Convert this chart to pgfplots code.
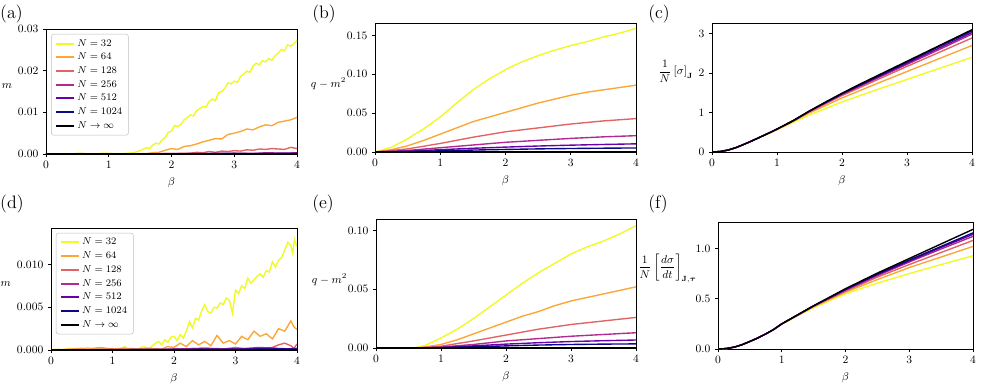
\documentclass[border=0pt]{standalone}
\usepackage{amsmath}
\usepackage{pgfplots}
\pgfplotsset{compat=1.18}

\definecolor{cA}{HTML}{F0F921}
\definecolor{cB}{HTML}{FCA636}
\definecolor{cC}{HTML}{E16462}
\definecolor{cD}{HTML}{B12A90}
\definecolor{cE}{HTML}{6A00A8}
\definecolor{cF}{HTML}{0D0887}

\pgfplotsset{
  panel/.style={
    scale only axis, anchor=south west,
    xmin=0, xmax=4, ymin=0, xtick={0,...,4},
    xlabel={$\beta$},
    xtick pos=bottom, ytick pos=left, tick align=outside,
    major tick length=2.6pt,
    tick label style={font=\fontsize{9}{11}\selectfont},
    label style={font=\fontsize{9}{11}\selectfont},
    axis line style={line width=0.6pt}, tick style={line width=0.6pt, black},
    scaled y ticks=false,
    yticklabel style={/pgf/number format/fixed, /pgf/number format/fixed zerofill},
    every axis plot/.append style={line width=1.1pt, mark=none},
  },
  % horizontal y label: right edge #1 left of the axis, baseline raised by #2
  ylab/.style 2 args={every axis y label/.style={at={(rel axis cs:0,0.5)}, anchor=base east,
    inner sep=0pt, xshift=-#1, yshift=#2, font=\fontsize{9}{11}\selectfont}},
  leg/.style={
    legend cell align=left,
    legend style={font=\fontsize{8.5}{10}\selectfont, draw=black!25, rounded corners=2pt,
      at={(0.02,0.96)}, anchor=north west},
    legend image code/.code={\draw[##1, line width=1.6pt] (0cm,0cm) -- (0.5cm,0cm);},
    legend entries={{$N=32$},{$N=64$},{$N=128$},{$N=256$},{$N=512$},{$N=1024$},{$N\rightarrow\infty$}},
  },
}

\begin{document}
\begin{tikzpicture}
\useasboundingbox (0,0) rectangle (784.8pt,308pt);

%% (a)
\node[anchor=north west, font=\Large, inner sep=0pt] at (0pt,304pt) {(a)};
\begin{axis}[panel, leg, ylab={27pt}{2pt}, at={(36.8pt,184.8pt)}, width=200.8pt, height=100pt,
  ymax=0.03, ytick={0,0.01,0.02,0.03},
  yticklabel style={/pgf/number format/precision=2},
  ylabel={$m$}]
\addplot[cA] coordinates {(0,0) (0.1,0.0001) (0.2,0) (0.3,0.0001) (0.4,0) (0.5,0.0001) (0.55,0.0002) (0.6,0) (0.7,0.0001) (0.8,0) (0.9,0.0002) (1.0,0.0001) (1.1,0.0001) (1.2,0.0001) (1.3,0.0002) (1.4,0.0003) (1.45,0.0006) (1.5,0.0008) (1.55,0.0012) (1.6,0.0015) (1.65,0.0013) (1.7,0.0021) (1.75,0.0026) (1.8,0.0024) (1.85,0.0034) (1.9,0.0040) (1.95,0.0052) (2.0,0.0055) (2.05,0.0068) (2.1,0.0066) (2.15,0.0071) (2.2,0.0082) (2.25,0.0087) (2.3,0.0094) (2.35,0.0091) (2.4,0.0104) (2.45,0.0109) (2.5,0.0114) (2.55,0.0113) (2.6,0.0126) (2.65,0.0132) (2.7,0.0128) (2.75,0.0147) (2.8,0.0150) (2.85,0.0158) (2.9,0.0171) (2.95,0.0168) (3.0,0.0175) (3.05,0.0172) (3.1,0.0186) (3.15,0.0192) (3.2,0.0199) (3.25,0.0196) (3.3,0.0211) (3.35,0.0218) (3.4,0.0214) (3.45,0.0224) (3.5,0.0221) (3.55,0.0229) (3.6,0.0225) (3.65,0.0236) (3.7,0.0242) (3.75,0.0251) (3.8,0.0248) (3.85,0.0262) (3.9,0.0259) (3.95,0.0264) (4.0,0.0273)};
\addplot[cB] coordinates {(0,0) (0.6,0.0001) (0.8,0) (1.0,0.0001) (1.2,0) (1.4,0.0001) (1.6,0.0001) (1.7,0.0003) (1.8,0.0004) (1.9,0.0009) (2.0,0.0013) (2.1,0.0011) (2.2,0.0018) (2.3,0.0020) (2.4,0.0024) (2.5,0.0029) (2.6,0.0033) (2.7,0.0037) (2.8,0.0036) (2.9,0.0047) (3.0,0.0050) (3.1,0.0054) (3.2,0.0060) (3.3,0.0058) (3.4,0.0065) (3.5,0.0070) (3.6,0.0068) (3.7,0.0076) (3.8,0.0079) (3.9,0.0082) (4.0,0.0088)};
\addplot[cC] coordinates {(0,0) (1.0,0) (2.0,0.0001) (2.3,0.0002) (2.4,0.0004) (2.5,0.0003) (2.6,0.0006) (2.7,0.0004) (2.8,0.0007) (2.9,0.0006) (3.0,0.0008) (3.1,0.0007) (3.2,0.0010) (3.3,0.0009) (3.4,0.0012) (3.5,0.0011) (3.6,0.0013) (3.7,0.0012) (3.8,0.0011) (3.9,0.0016) (4.0,0.0013)};
\addplot[cD] coordinates {(0,0) (2.5,0.0001) (3.0,0.0002) (3.3,0.0001) (3.5,0.0003) (3.8,0.0002) (4.0,0.0003)};
\addplot[cE] coordinates {(0,0) (3.0,0.0001) (3.5,0.0001) (4.0,0.0002)};
\addplot[cF] coordinates {(0,0) (3.5,0.0001) (4.0,0.0001)};
\addplot[black] coordinates {(0,0) (4,0)};
\end{axis}

%% (b)
\node[anchor=north west, font=\Large, inner sep=0pt] at (249.6pt,304pt) {(b)};
\begin{axis}[panel, ylab={23pt}{0pt}, at={(300pt,186.4pt)}, width=208.8pt, height=103.2pt,
  ymax=0.166, ytick={0,0.05,0.10,0.15},
  yticklabel style={/pgf/number format/precision=2},
  ylabel={$q-m^2$}]
\addplot[cA] coordinates {(0,0) (0.25,0.006) (0.5,0.017) (0.75,0.030) (1,0.045) (1.25,0.063) (1.5,0.080) (1.75,0.094) (2,0.106) (2.25,0.116) (2.5,0.124) (2.75,0.131) (3,0.137) (3.25,0.142) (3.5,0.148) (3.75,0.153) (4,0.159)};
\addplot[cB] coordinates {(0,0) (0.25,0.003) (0.5,0.008) (0.75,0.015) (1,0.023) (1.25,0.031) (1.5,0.039) (1.75,0.045) (2,0.051) (2.25,0.057) (2.5,0.063) (2.75,0.068) (3,0.073) (3.25,0.077) (3.5,0.080) (3.75,0.083) (4,0.086)};
\addplot[cC] coordinates {(0,0) (0.5,0.004) (1,0.011) (1.5,0.019) (2,0.026) (2.5,0.031) (3,0.036) (3.5,0.040) (4,0.043)};
\addplot[cD] coordinates {(0,0) (0.5,0.002) (1,0.0055) (1.5,0.009) (2,0.0125) (2.5,0.015) (3,0.0175) (3.5,0.0195) (4,0.021)};
\addplot[cE] coordinates {(0,0) (0.5,0.001) (1,0.003) (1.5,0.0048) (2,0.0063) (2.5,0.0077) (3,0.0088) (3.5,0.0097) (4,0.0105)};
\addplot[cF] coordinates {(0,0) (0.5,0.0005) (1,0.0015) (1.5,0.0025) (2,0.0033) (2.5,0.0040) (3,0.0045) (3.5,0.0049) (4,0.0052)};
\addplot[black] coordinates {(0,0) (4,0)};
\end{axis}

%% (c)
\node[anchor=north west, font=\Large, inner sep=0pt] at (518.4pt,304pt) {(c)};
\begin{axis}[panel, ylab={15pt}{10pt}, at={(569.6pt,186.4pt)}, width=208pt, height=103.2pt,
  ymax=3.27, ytick={0,1,2,3},
  yticklabel style={/pgf/number format/precision=0},
  ylabel={$\dfrac{1}{N}\left[\sigma\right]_{\mathbf{J}}$}]
\addplot[cA] coordinates {(0,0) (0.125,0.012) (0.25,0.05) (0.375,0.115) (0.5,0.2) (0.625,0.29) (0.75,0.38) (0.875,0.47) (1,0.56) (1.25,0.75) (1.5,0.94) (2,1.27) (2.5,1.56) (3,1.84) (3.5,2.12) (4,2.40)};
\addplot[cB] coordinates {(0,0) (0.125,0.012) (0.25,0.05) (0.375,0.115) (0.5,0.2) (0.625,0.29) (0.75,0.385) (0.875,0.48) (1,0.575) (1.25,0.78) (1.5,0.99) (2,1.37) (2.5,1.71) (3,2.04) (3.5,2.37) (4,2.70)};
\addplot[cC] coordinates {(0,0) (0.125,0.012) (0.25,0.05) (0.375,0.115) (0.5,0.2) (0.625,0.29) (0.75,0.385) (0.875,0.48) (1,0.58) (1.25,0.79) (1.5,1.02) (2,1.43) (2.5,1.80) (3,2.17) (3.5,2.53) (4,2.89)};
\addplot[cD] coordinates {(0,0) (0.125,0.012) (0.25,0.05) (0.375,0.115) (0.5,0.2) (0.625,0.29) (0.75,0.385) (0.875,0.48) (1,0.58) (1.25,0.79) (1.5,1.03) (2,1.46) (2.5,1.84) (3,2.22) (3.5,2.60) (4,2.99)};
\addplot[cE] coordinates {(0,0) (0.125,0.012) (0.25,0.05) (0.375,0.115) (0.5,0.2) (0.625,0.29) (0.75,0.385) (0.875,0.48) (1,0.58) (1.25,0.79) (1.5,1.035) (2,1.47) (2.5,1.86) (3,2.25) (3.5,2.64) (4,3.03)};
\addplot[cF] coordinates {(0,0) (0.125,0.012) (0.25,0.05) (0.375,0.115) (0.5,0.2) (0.625,0.29) (0.75,0.385) (0.875,0.48) (1,0.58) (1.25,0.79) (1.5,1.04) (2,1.48) (2.5,1.88) (3,2.28) (3.5,2.68) (4,3.07)};
\addplot[black] coordinates {(0,0) (0.125,0.012) (0.25,0.05) (0.375,0.115) (0.5,0.2) (0.625,0.29) (0.75,0.385) (0.875,0.48) (1,0.58) (1.25,0.80) (1.5,1.04) (1.75,1.27) (2,1.49) (2.25,1.70) (2.5,1.90) (3,2.30) (3.5,2.70) (4,3.10)};
\end{axis}

%% (d)
\node[anchor=north west, font=\Large, inner sep=0pt] at (0pt,152pt) {(d)};
\begin{axis}[panel, leg, ylab={32pt}{2pt}, at={(40.8pt,28pt)}, width=196.8pt, height=97.6pt,
  ymax=0.01426, ytick={0,0.005,0.010},
  yticklabel style={/pgf/number format/precision=3},
  ylabel={$m$}]
\addplot[cA] coordinates {(0,0) (0.1,0.0001) (0.2,0) (0.3,0.0002) (0.4,0.0001) (0.5,0.0001) (0.6,0.0003) (0.7,0.0001) (0.8,0.0002) (0.9,0.0001) (1.0,0.0002) (1.1,0.0001) (1.2,0.0004) (1.25,0.0001) (1.3,0.0002) (1.4,0.0001) (1.5,0.0004) (1.6,0.0002) (1.7,0.0008) (1.75,0.0010) (1.8,0.0006) (1.85,0.0012) (1.9,0.0009) (1.95,0.0015) (2.0,0.0016) (2.05,0.0011) (2.1,0.0018) (2.15,0.0014) (2.2,0.0022) (2.25,0.0033) (2.3,0.0026) (2.35,0.0037) (2.4,0.0035) (2.45,0.0046) (2.5,0.0053) (2.55,0.0045) (2.6,0.0043) (2.65,0.0050) (2.7,0.0049) (2.75,0.0055) (2.8,0.0053) (2.85,0.0061) (2.9,0.0058) (2.95,0.0043) (3.0,0.0070) (3.05,0.0066) (3.1,0.0075) (3.15,0.0072) (3.2,0.0084) (3.25,0.0078) (3.3,0.0082) (3.35,0.0086) (3.4,0.0089) (3.45,0.0085) (3.5,0.0093) (3.55,0.0091) (3.6,0.0103) (3.65,0.0097) (3.7,0.0105) (3.75,0.0108) (3.8,0.0117) (3.85,0.0126) (3.9,0.0122) (3.93,0.0113) (3.96,0.0129) (4.0,0.0121)};
\addplot[cB] coordinates {(0,0) (0.3,0.0001) (0.5,0.0002) (0.6,0.0001) (0.8,0.0003) (1.0,0.0001) (1.2,0.0002) (1.4,0.0001) (1.6,0.0002) (1.8,0.0001) (1.9,0.0004) (2.0,0.0003) (2.1,0.0008) (2.2,0.0004) (2.3,0.0011) (2.4,0.0006) (2.5,0.0010) (2.6,0.0005) (2.7,0.0017) (2.8,0.0008) (2.9,0.0011) (3.0,0.0007) (3.1,0.0016) (3.2,0.0012) (3.3,0.0022) (3.4,0.0016) (3.5,0.0019) (3.6,0.0013) (3.7,0.0025) (3.8,0.0022) (3.9,0.0034) (3.95,0.0027) (4.0,0.0024)};
\addplot[cC] coordinates {(0,0) (1.0,0.0001) (1.5,0) (2.0,0.0001) (2.5,0.0002) (2.8,0.0001) (3.0,0.0003) (3.2,0.0001) (3.4,0.0002) (3.6,0.0003) (3.7,0.0006) (3.8,0.0008) (3.9,0.0005) (3.95,0.0002) (4.0,0.0007)};
\addplot[cD] coordinates {(0,0) (2.0,0.0001) (2.5,0.0002) (3.0,0.0001) (3.4,0.0003) (3.8,0.0001) (4.0,0.0002)};
\addplot[cE] coordinates {(0,0) (3.0,0.0001) (3.6,0.0002) (4.0,0.0001)};
\addplot[cF] coordinates {(0,0) (3.5,0.0001) (4.0,0.0001)};
\addplot[black] coordinates {(0,0) (4,0)};
\end{axis}

%% (e)
\node[anchor=north west, font=\Large, inner sep=0pt] at (249.6pt,152pt) {(e)};
\begin{axis}[panel, ylab={23pt}{0pt}, at={(300.8pt,29.6pt)}, width=208pt, height=103.2pt,
  ymax=0.1097, ytick={0,0.05,0.10},
  yticklabel style={/pgf/number format/precision=2},
  ylabel={$q-m^2$}]
\addplot[cA] coordinates {(0,0) (0.5,0) (0.6,0.0002) (0.75,0.002) (1,0.0085) (1.25,0.016) (1.5,0.025) (1.75,0.035) (2,0.045) (2.25,0.055) (2.5,0.064) (2.75,0.072) (3,0.080) (3.25,0.086) (3.5,0.091) (3.75,0.097) (4,0.104)};
\addplot[cB] coordinates {(0,0) (0.6,0) (0.75,0.0008) (1,0.003) (1.25,0.007) (1.5,0.012) (1.75,0.017) (2,0.022) (2.25,0.027) (2.5,0.031) (2.75,0.036) (3,0.040) (3.25,0.043) (3.5,0.046) (3.75,0.049) (4,0.052)};
\addplot[cC] coordinates {(0,0) (0.6,0) (0.75,0.0004) (1,0.0015) (1.5,0.006) (2,0.011) (2.5,0.016) (3,0.020) (3.5,0.023) (4,0.026)};
\addplot[cD] coordinates {(0,0) (0.6,0) (1,0.0008) (1.5,0.003) (2,0.006) (2.5,0.008) (3,0.010) (3.5,0.0115) (4,0.013)};
\addplot[cE] coordinates {(0,0) (0.6,0) (1,0.0004) (1.5,0.0018) (2,0.0033) (2.5,0.0045) (3,0.0055) (3.5,0.0062) (4,0.0068)};
\addplot[cF] coordinates {(0,0) (0.6,0) (1,0.0002) (1.5,0.001) (2,0.0018) (2.5,0.0025) (3,0.003) (3.5,0.0033) (4,0.0035)};
\addplot[black] coordinates {(0,0) (4,0)};
\end{axis}

%% (f)
\node[anchor=north west, font=\Large, inner sep=0pt] at (518.4pt,152pt) {(f)};
\begin{axis}[panel, ylab={17pt}{12pt}, at={(574.4pt,28.8pt)}, width=204pt, height=101.6pt,
  ymax=1.263, ytick={0,0.5,1.0},
  yticklabel style={/pgf/number format/precision=1},
  ylabel={$\dfrac{1}{N}\left[\dfrac{d\sigma}{dt}\right]_{\mathbf{J},\boldsymbol{\tau}}$}]
\addplot[cA] coordinates {(0,0) (0.125,0.004) (0.25,0.018) (0.375,0.042) (0.5,0.074) (0.625,0.11) (0.75,0.15) (0.875,0.195) (1,0.245) (1.25,0.33) (1.5,0.41) (2,0.55) (2.5,0.655) (3,0.75) (3.5,0.84) (4,0.927)};
\addplot[cB] coordinates {(0,0) (0.125,0.004) (0.25,0.018) (0.375,0.042) (0.5,0.075) (0.625,0.11) (0.75,0.15) (0.875,0.195) (1,0.248) (1.25,0.335) (1.5,0.42) (2,0.565) (2.5,0.69) (3,0.81) (3.5,0.915) (4,1.02)};
\addplot[cC] coordinates {(0,0) (0.125,0.004) (0.25,0.018) (0.375,0.042) (0.5,0.075) (0.625,0.11) (0.75,0.15) (0.875,0.195) (1,0.249) (1.25,0.337) (1.5,0.425) (2,0.575) (2.5,0.715) (3,0.84) (3.5,0.96) (4,1.08)};
\addplot[cD] coordinates {(0,0) (0.125,0.004) (0.25,0.018) (0.375,0.042) (0.5,0.075) (0.625,0.11) (0.75,0.15) (0.875,0.195) (1,0.25) (1.25,0.338) (1.5,0.428) (2,0.585) (2.5,0.73) (3,0.865) (3.5,0.995) (4,1.12)};
\addplot[cE] coordinates {(0,0) (0.125,0.004) (0.25,0.018) (0.375,0.042) (0.5,0.075) (0.625,0.11) (0.75,0.15) (0.875,0.195) (1,0.25) (1.25,0.339) (1.5,0.429) (2,0.59) (2.5,0.74) (3,0.875) (3.5,1.01) (4,1.14)};
\addplot[cF] coordinates {(0,0) (0.125,0.004) (0.25,0.018) (0.375,0.042) (0.5,0.075) (0.625,0.11) (0.75,0.15) (0.875,0.195) (1,0.25) (1.25,0.34) (1.5,0.43) (2,0.595) (2.5,0.745) (3,0.885) (3.5,1.02) (4,1.155)};
\addplot[black] coordinates {(0,0) (0.125,0.004) (0.25,0.018) (0.375,0.042) (0.5,0.075) (0.625,0.11) (0.75,0.15) (0.875,0.195) (1,0.25) (1.25,0.34) (1.5,0.43) (1.75,0.515) (2,0.60) (2.5,0.755) (3,0.90) (3.5,1.045) (4,1.19)};
\end{axis}
\end{tikzpicture}
\end{document}
